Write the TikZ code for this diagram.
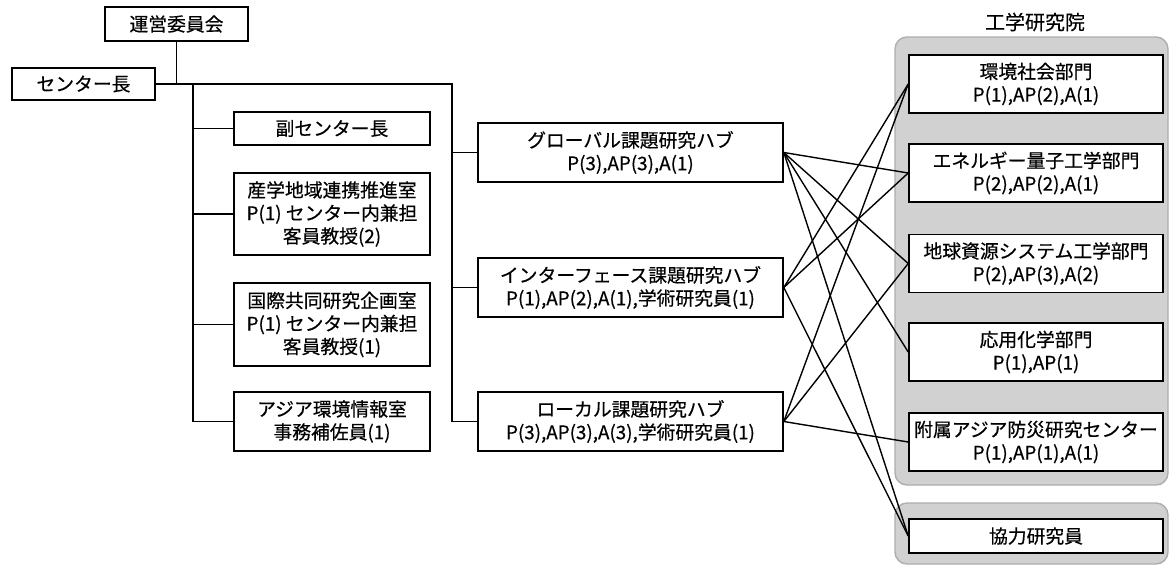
\documentclass[tikz,border=0pt]{standalone}
\usepackage{fontspec}
\setmainfont{Noto Sans CJK JP}[FakeBold=0.5]
\begin{document}
\begin{tikzpicture}[x=1pt,y=-1pt,
  box/.style={draw=black, line width=1.6pt, fill=white, inner sep=0pt, align=center,
    font=\fontsize{18.8}{23}\selectfont},
  lbox/.style={box, minimum width=196pt},
  hbox/.style={box, minimum width=305pt, minimum height=59pt},
  rbox/.style={box, minimum width=254pt, minimum height=58pt},
  link/.style={line width=1.4pt, black},
  group/.style={rounded corners=12pt, fill=black!18, draw=black!32, line width=1.4pt}
]
\useasboundingbox (0,0) rectangle (1173,566);

% gray groups
\draw[group] (895,37) rectangle (1168,485);
\draw[group] (895,503) rectangle (1168,564);
\node[font=\fontsize{20}{24}\selectfont] (title) at (1035,22) {工学研究院};

% top
\node[box, minimum width=143pt, minimum height=34pt] (committee) at (176.5,24) {運営委員会};
\node[box, minimum width=143pt, minimum height=32pt] (director) at (83.5,84) {センター長};

% left column
\node[lbox, minimum height=33pt] (vice) at (332,128.5) {副センター長};
\node[lbox, minimum height=82pt] (sangaku) at (332,214) {産学地域連携推進室\\P(1) センター内兼担\\客員教授(2)};
\node[lbox, minimum height=83pt] (kokusai) at (332,324.5) {国際共同研究企画室\\P(1) センター内兼担\\客員教授(1)};
\node[lbox, minimum height=59pt] (asia) at (332,421.5) {アジア環境情報室\\事務補佐員(1)};

% hubs
\node[hbox] (global) at (630.5,152.5) {グローバル課題研究ハブ\\P(3),AP(3),A(1)};
\node[hbox] (interface) at (630.5,287.5) {インターフェース課題研究ハブ\\P(1),AP(2),A(1),学術研究員(1)};
\node[hbox] (local) at (630.5,421.5) {ローカル課題研究ハブ\\P(3),AP(3),A(3),学術研究員(1)};

% right column
\node[rbox] (kankyo) at (1036,84) {環境社会部門\\P(1),AP(2),A(1)};
\node[rbox] (energy) at (1036,173) {エネルギー量子工学部門\\P(2),AP(2),A(1)};
\node[rbox] (chikyu) at (1036,263.5) {地球資源システム工学部門\\P(2),AP(3),A(2)};
\node[rbox] (ouyou) at (1036,352) {応用化学部門\\P(1),AP(1)};
\node[rbox] (fuzoku) at (1036,442) {附属アジア防災研究センター\\P(1),AP(1),A(1)};
\node[rbox, minimum height=34pt] (kyouryoku) at (1036,536) {協力研究員};

% tree connectors
\coordinate (lb) at (193,84);
\coordinate (hb) at (452,84);
\draw[link] (committee.south) -- (committee.south |- director.east);
\draw[link] (director.east) -- (hb) |- (local.west);
\draw[link] (hb |- global.west) -- (global.west);
\draw[link] (hb |- interface.west) -- (interface.west);
\draw[link] (lb) |- (asia.west);
\draw[link] (lb |- vice.west) -- (vice.west);
\draw[link] (lb |- sangaku.west) -- (sangaku.west);
\draw[link] (lb |- kokusai.west) -- (kokusai.west);

% hub to department connectors
\draw[link] (global.east) -- (energy.west);
\draw[link] (global.east) -- (chikyu.west);
\draw[link] (global.east) -- (ouyou.west);
\draw[link] (global.east) -- (kyouryoku.west);
\draw[link] (interface.east) -- (kankyo.west);
\draw[link] (interface.east) -- (energy.west);
\draw[link] (interface.east) -- (kyouryoku.west);
\draw[link] (local.east) -- (kankyo.west);
\draw[link] (local.east) -- (chikyu.west);
\draw[link] (local.east) -- (fuzoku.west);
\end{tikzpicture}
\end{document}
